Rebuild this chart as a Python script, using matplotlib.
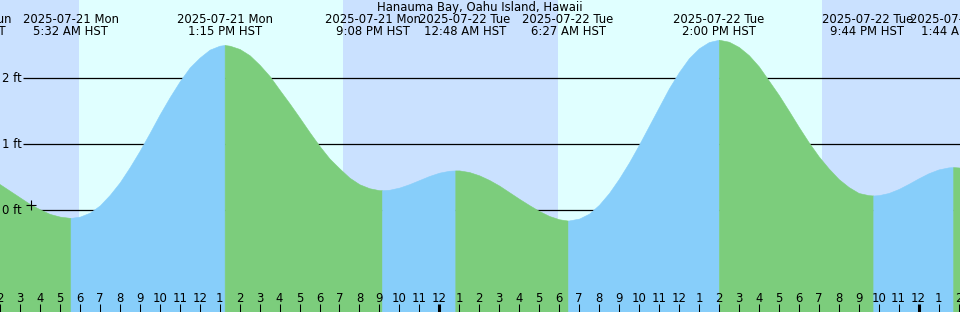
import numpy as np
import matplotlib
matplotlib.use("Agg")
import matplotlib.pyplot as plt
from matplotlib.transforms import blended_transform_factory, offset_copy

plt.rcParams['font.family'] = ['DejaVu Sans']

# ---------------- data ----------------
station = "Hanauma Bay, Oahu Island, Hawaii"

# hours since 2025-07-21 00:00 HST, tide height in ft
curve_hours = [1, 1.5, 2, 2.5, 3, 3.5, 4, 4.5, 5, 5.533,
               6, 6.5, 7, 7.5, 8, 8.5, 9, 9.5, 10, 10.5, 11, 11.5, 12, 12.5, 13, 13.25,
               13.5, 14, 14.5, 15, 15.5, 16, 16.5, 17, 17.5, 18, 18.5, 19, 19.5, 20, 20.5, 21, 21.133,
               21.5, 22, 22.5, 23, 23.5, 24, 24.5, 24.8,
               25, 25.5, 26, 26.5, 27, 27.5, 28, 28.5, 29, 29.5, 30, 30.45,
               31, 31.5, 32, 32.5, 33, 33.5, 34, 34.5, 35, 35.5, 36, 36.5, 37, 37.5, 38.0,
               38.5, 39, 39.5, 40, 40.5, 41, 41.5, 42, 42.5, 43, 43.5, 44, 44.5, 45, 45.5, 45.733,
               46, 46.5, 47, 47.5, 48, 48.5, 49, 49.5, 49.733, 50, 50.5, 51]
curve_ft = [0.54, 0.47, 0.39, 0.29, 0.19, 0.09, 0.01, -0.06, -0.10, -0.12,
            -0.10, -0.04, 0.07, 0.23, 0.42, 0.65, 0.90, 1.17, 1.45, 1.71, 1.95, 2.16, 2.31, 2.43, 2.49, 2.50,
            2.49, 2.44, 2.345, 2.20, 2.03, 1.82, 1.615, 1.40, 1.18, 0.97, 0.78, 0.63, 0.49, 0.39, 0.33, 0.30, 0.30,
            0.307, 0.34, 0.392, 0.454, 0.516, 0.566, 0.595, 0.60,
            0.60, 0.575, 0.525, 0.455, 0.37, 0.27, 0.17, 0.075, -0.015, -0.09, -0.14, -0.16,
            -0.13, -0.055, 0.08, 0.258, 0.476, 0.72, 0.99, 1.275, 1.56, 1.844, 2.089, 2.30, 2.45, 2.545, 2.58,
            2.55, 2.47, 2.346, 2.176, 1.96, 1.743, 1.504, 1.259, 1.025, 0.812, 0.629, 0.469, 0.348, 0.258, 0.225, 0.22,
            0.225, 0.258, 0.318, 0.396, 0.48, 0.557, 0.615, 0.646, 0.65, 0.645, 0.625, 0.595]

ext_hours = [-0.05, 5.533, 13.25, 21.133, 24.8, 30.45, 38.0, 45.733, 49.733]
ext_ft = [0.60, -0.12, 2.50, 0.30, 0.60, -0.16, 2.58, 0.22, 0.65]
ext_date = ["2025-07-20 Sun", "2025-07-21 Mon", "2025-07-21 Mon", "2025-07-21 Mon",
            "2025-07-22 Tue", "2025-07-22 Tue", "2025-07-22 Tue", "2025-07-22 Tue",
            "2025-07-23 Wed"]
ext_time = ["11:57 PM HST", "5:32 AM HST", "1:15 PM HST", "9:08 PM HST",
            "12:48 AM HST", "6:27 AM HST", "2:00 PM HST", "9:44 PM HST",
            "1:44 AM HST"]

sunrise_hours = [5.967, 29.967]
sunset_hours = [19.183, 43.167]

grid_ft = [0, 1, 2]
grid_labels = ["0 ft", "1 ft", "2 ft"]

tick_hours = list(range(2, 51))
tick_labels = ["2", "3", "4", "5", "6", "7", "8", "9", "10", "11", "12",
               "1", "2", "3", "4", "5", "6", "7", "8", "9", "10", "11", "12",
               "1", "2", "3", "4", "5", "6", "7", "8", "9", "10", "11", "12",
               "1", "2", "3", "4", "5", "6", "7", "8", "9", "10", "11", "12",
               "1", "2"]
midnight_hours = [24, 48]
now_hour = 3.575

# ---------------- style ----------------
DAY = "#E0FFFF"
NIGHT = "#CAE1FF"
RISE = "#87CEFA"
FALL = "#7CCD7C"
FS = 8.4
X0, X1 = 2.075, 50.075
Y0, Y1 = -1.545, 3.182
# pixel nudges that keep neighbouring event labels apart
label_nudge_px = [6, 0, 0, -9, 9.5, 0, 0, -6, 5]

fig = plt.figure(figsize=(9.6, 3.12), dpi=100)
ax = fig.add_axes([0, 0, 1, 1])
ax.set_xlim(X0, X1)
ax.set_ylim(Y0, Y1)
ax.set_facecolor(DAY)
for s in ax.spines.values():
    s.set_visible(False)

# night shading
night_starts = [X0 - 5] + sunset_hours
night_ends = sunrise_hours + [X1 + 5]
for a, b in zip(night_starts, night_ends):
    ax.axvspan(a, b, color=NIGHT, lw=0, zorder=0)

# grid lines (behind tide fill)
gx0 = X0 + 22 / 960 * (X1 - X0)
ax.hlines(grid_ft, gx0, X1 + 1, colors="black", lw=0.9, zorder=1)

# tide fill: blue while rising, green while falling
t = np.array(curve_hours)
h = np.array(curve_ft)
bounds = list(ext_hours) + [t.max() + 1]
for i in range(len(bounds) - 1):
    a, b = bounds[i], bounds[i + 1]
    if i + 1 < len(ext_ft):
        rising = ext_ft[i + 1] > ext_ft[i]
    else:
        rising = ext_ft[i] < ext_ft[i - 1]
    m = (t >= a) & (t <= b)
    if m.sum() < 2:
        continue
    c = RISE if rising else FALL
    ax.fill_between(t[m], h[m], Y0, color=c, lw=0.4, edgecolor=c, zorder=2)

# now marker on the curve
ax.plot([now_hour], [np.interp(now_hour, t, h)], marker="+", ms=6.5, mew=0.8,
        color="black", zorder=4)

# y labels
tr_axy = blended_transform_factory(ax.transAxes, ax.transData)
for v, lab in zip(grid_ft, grid_labels):
    ax.text(2 / 960, v, lab, transform=tr_axy, ha="left", va="center",
            fontsize=FS, zorder=5)

# top labels
tr_xax = blended_transform_factory(ax.transData, ax.transAxes)
ax.text(0.5, 1 - 7.5 / 312, station, transform=ax.transAxes, ha="center",
        va="center", fontsize=FS, zorder=5)
for th, d, tm, dx in zip(ext_hours, ext_date, ext_time, label_nudge_px):
    tr = offset_copy(tr_xax, fig=fig, x=dx, y=0, units="dots")
    ax.text(th, 1 - 19.5 / 312, d, transform=tr, ha="center", va="center",
            fontsize=FS, zorder=5)
    ax.text(th, 1 - 31.5 / 312, tm, transform=tr, ha="center", va="center",
            fontsize=FS, zorder=5)

# hour ticks
ax.set_yticks([])
ax.set_xticks(tick_hours)
ax.set_xticklabels(tick_labels, fontsize=FS)
ax.tick_params(axis="x", direction="in", length=5.76, width=0.75, pad=-14.6,
               colors="black", bottom=True, top=False)
for tk, hr in zip(ax.xaxis.get_major_ticks(), tick_hours):
    tk.tick1line.set_zorder(6)
    if hr in midnight_hours:
        tk.tick1line.set_markeredgewidth(2.2)
for lab in ax.get_xticklabels():
    lab.set_zorder(6)
ax.set_axisbelow(False)

fig.savefig("out.png", dpi=100)
